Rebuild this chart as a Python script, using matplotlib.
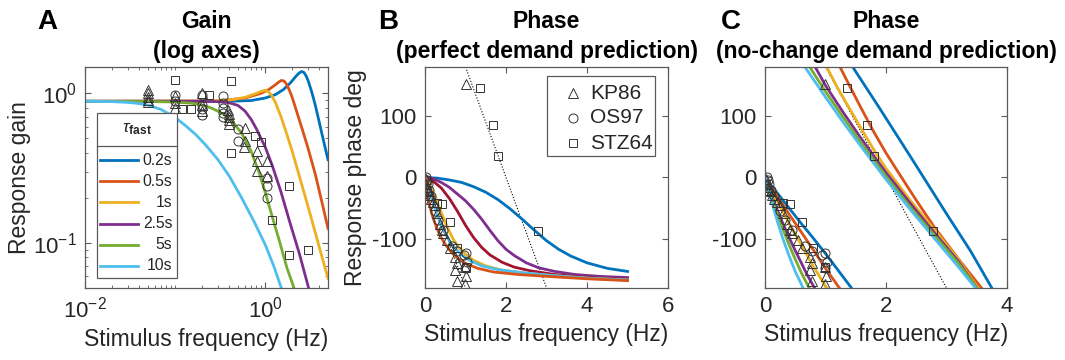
import matplotlib
matplotlib.use('Agg')
import matplotlib.pyplot as plt
import matplotlib.ticker as mticker
from matplotlib.patches import Rectangle
import numpy as np

plt.rcParams['font.family'] = ['Liberation Sans', 'DejaVu Sans']
plt.rcParams['mathtext.fontset'] = 'custom'
plt.rcParams['mathtext.rm'] = 'Liberation Sans'
plt.rcParams['mathtext.it'] = 'Liberation Sans:italic'
plt.rcParams['mathtext.bf'] = 'Liberation Sans:bold'
plt.rcParams['axes.unicode_minus'] = False

# MATLAB default colours
BLUE = '#0072BD'
ORANGE = '#D95319'
YELLOW = '#EDB120'
PURPLE = '#7E2F8E'
GREEN = '#77AC30'
LBLUE = '#4DBEEE'
DRED = '#A2142F'
TXT = '#262626'
EDGE = '#5a5a5a'

# ---------------- Panel A: gain curves (Hz, gain) ----------------
fa_blue = [0.01, 0.4, 0.7, 1.0, 1.3, 1.6, 1.9, 2.2, 2.4, 2.55, 2.7, 2.85, 3.0, 3.3, 3.6, 4.0, 4.5, 5.0]
ga_blue = [0.885, 0.885, 0.895, 0.93, 0.98, 1.06, 1.17, 1.3, 1.37, 1.4, 1.38, 1.31, 1.22, 1.02, 0.84, 0.64, 0.47, 0.36]
fa_orange = [0.01, 0.3, 0.6, 0.9, 1.1, 1.3, 1.42, 1.52, 1.62, 1.72, 1.85, 2.0, 2.3, 2.6, 3.0, 3.6, 4.3, 5.0]
ga_orange = [0.885, 0.89, 0.93, 1.0, 1.06, 1.14, 1.19, 1.22, 1.21, 1.16, 1.06, 0.94, 0.72, 0.57, 0.43, 0.29, 0.185, 0.125]
fa_yellow = [0.01, 0.2, 0.4, 0.6, 0.8, 0.9, 1.0, 1.08, 1.18, 1.3, 1.5, 1.75, 2.0, 2.4, 3.0, 3.6, 4.3, 5.0]
ga_yellow = [0.885, 0.885, 0.9, 0.94, 1.0, 1.03, 1.05, 1.03, 0.97, 0.87, 0.7, 0.53, 0.41, 0.28, 0.175, 0.118, 0.08, 0.058]
fa_purple = [0.01, 0.2, 0.3, 0.4, 0.5, 0.6, 0.7, 0.8, 0.9, 1.0, 1.2, 1.5, 1.9, 2.4, 3.1]
ga_purple = [0.885, 0.885, 0.88, 0.865, 0.83, 0.76, 0.67, 0.58, 0.5, 0.44, 0.33, 0.22, 0.135, 0.085, 0.048]
fa_green = [0.01, 0.05, 0.1, 0.15, 0.2, 0.25, 0.3, 0.35, 0.45, 0.55, 0.7, 0.85, 1.0, 1.2, 1.45, 1.75, 2.05, 2.3]
ga_green = [0.885, 0.882, 0.875, 0.86, 0.835, 0.8, 0.76, 0.72, 0.63, 0.54, 0.41, 0.3, 0.22, 0.15, 0.102, 0.068, 0.052, 0.042]
fa_lblue = [0.01, 0.02, 0.03, 0.04, 0.05, 0.07, 0.1, 0.13, 0.17, 0.22, 0.3, 0.4, 0.55, 0.75, 1.0, 1.25, 1.55]
ga_lblue = [0.885, 0.88, 0.87, 0.855, 0.835, 0.78, 0.69, 0.61, 0.53, 0.45, 0.36, 0.28, 0.2, 0.14, 0.098, 0.07, 0.048]

tau_labels = ['0.2s', '0.5s', '1s', '2.5s', '5s', '10s']

# Panel A: measured gain points
kp_fa = [0.05, 0.05, 0.05, 0.05, 0.05, 0.1, 0.1, 0.1, 0.2, 0.2, 0.2, 0.39, 0.4, 0.4, 0.4, 0.4,
         0.6, 0.6, 0.59, 0.81, 0.81, 0.81, 1.04, 1.04]
kp_ga = [1.05, 1.0, 0.95, 0.9, 0.87, 0.955, 0.86, 0.8, 1.0, 0.84, 0.76, 0.77, 0.73, 0.69, 0.66, 0.62,
         0.59, 0.48, 0.44, 0.41, 0.355, 0.305, 0.355, 0.28]
os_fa = [0.1, 0.1, 0.2, 0.2, 0.2, 0.2, 0.34, 0.34, 0.34, 0.34, 0.34, 0.5, 0.5, 1.04, 1.04, 1.04]
os_ga = [0.98, 0.885, 0.98, 0.84, 0.78, 0.72, 0.955, 0.86, 0.8, 0.74, 0.7, 0.575, 0.48, 0.27, 0.24, 0.2]
sq_fa = [0.1, 0.12, 0.15, 0.24, 0.42, 0.42, 0.77, 0.91, 1.19, 1.83, 1.83, 3.0]
sq_ga = [1.22, 0.78, 0.78, 0.97, 1.2, 0.4, 0.52, 0.47, 0.142, 0.24, 0.083, 0.09]

# ---------------- Panel B: phase curves (Hz, deg) ----------------
fb_blue = [0, 0.3, 0.6, 0.9, 1.2, 1.5, 1.8, 2.1, 2.4, 2.7, 3.0, 3.3, 3.6, 4.0, 4.5, 5.0]
pb_blue = [0, -1, -4, -8, -15, -24, -36, -51, -68, -86, -103, -117, -128, -139, -148, -153]
fb_purple = [0, 0.2, 0.4, 0.6, 0.8, 1.0, 1.2, 1.4, 1.6, 1.8, 2.0, 2.2, 2.5, 2.8, 3.2, 3.7, 4.3, 5.0]
pb_purple = [0, -2, -8, -16, -27, -38, -52, -68, -86, -103, -117, -127, -139, -147, -153, -158, -161, -163]
fb_dred = [0, 0.2, 0.4, 0.6, 0.8, 1.0, 1.2, 1.4, 1.6, 1.9, 2.2, 2.6, 3.2, 4.0, 5.0]
pb_dred = [0, -6, -17, -34, -55, -78, -98, -114, -126, -138, -146, -152, -158, -163, -166]
fb_yellow = [0, 0.1, 0.2, 0.3, 0.4, 0.5, 0.6, 0.7, 0.85, 1.0, 1.2, 1.5, 1.9, 2.5, 3.2, 4.0, 5.0]
pb_yellow = [0, -10, -24, -40, -57, -73, -88, -101, -115, -125, -135, -144, -151, -156, -160, -164, -167]
fb_lblue = [0, 0.05, 0.1, 0.2, 0.3, 0.4, 0.5, 0.6, 0.75, 0.9, 1.1, 1.4, 1.8, 2.4, 3.2, 4.0, 5.0]
pb_lblue = [0, -10, -21, -42, -61, -78, -92, -103, -116, -126, -135, -144, -150, -155, -160, -164, -167]
fb_orange = [0, 0.03, 0.06, 0.1, 0.15, 0.2, 0.3, 0.4, 0.5, 0.65, 0.8, 1.0, 1.3, 1.7, 2.3, 3.0, 4.0, 5.0]
pb_orange = [0, -15, -29, -42, -55, -66, -84, -98, -109, -122, -131, -140, -148, -154, -158, -161, -165, -168]

# ---------------- Panel C: wrapped phase curves (Hz, deg) ----------------
fc_blue_lo = [0, 0.2, 0.4, 0.6, 0.8, 1.0, 1.2, 1.43]
pc_blue_lo = [0, -25, -50, -75, -99, -124, -150, -180]
fc_blue_hi = [1.45, 1.9, 2.45, 3.0, 3.4, 3.75]
pc_blue_hi = [180, 112, 27, -59, -120, -180]
fc_orange_lo = [0, 0.2, 0.4, 0.6, 0.8, 1.0, 1.23]
pc_orange_lo = [0, -30, -60, -89, -118, -148, -180]
fc_orange_hi = [1.24, 1.4, 1.6, 1.8, 2.0, 2.2, 2.5, 2.8, 3.2, 3.58]
pc_orange_hi = [180, 149, 111, 74, 40, 9, -37, -81, -133, -180]
fc_yellow_lo = [0, 0.2, 0.4, 0.6, 0.8, 1.02]
pc_yellow_lo = [0, -38, -75, -110, -145, -180]
fc_yellow_hi = [1.02, 1.2, 1.4, 1.6, 1.8, 2.0, 2.4, 2.8, 3.2, 3.52]
pc_yellow_hi = [180, 146, 112, 78, 45, 15, -37, -85, -134, -180]
fc_purple_lo = [0, 0.1, 0.2, 0.3, 0.4, 0.5, 0.6, 0.7, 0.82]
pc_purple_lo = [0, -27, -52, -76, -98, -119, -139, -159, -180]
fc_purple_hi = [0.83, 1.0, 1.3, 1.6, 2.0, 2.4, 2.8, 3.2, 3.5]
pc_purple_hi = [180, 150, 105, 62, 8, -42, -90, -137, -180]
fc_green_lo = [0, 0.1, 0.2, 0.3, 0.4, 0.5, 0.6, 0.73]
pc_green_lo = [0, -30, -58, -85, -110, -133, -155, -180]
fc_green_hi = [0.74, 1.0, 1.3, 1.6, 2.0, 2.4, 2.8, 3.2, 3.5]
pc_green_hi = [180, 140, 97, 55, 2, -48, -94, -140, -180]
fc_lblue_lo = [0, 0.1, 0.2, 0.3, 0.4, 0.5, 0.63]
pc_lblue_lo = [0, -36, -70, -101, -128, -153, -180]
fc_lblue_hi = [0.66, 1.0, 1.3, 1.6, 2.0, 2.4, 2.8, 3.2, 3.48]
pc_lblue_hi = [180, 131, 89, 49, -3, -52, -99, -146, -180]

# delay reference line (dotted)
dot_f1 = [0, 1]
dot_p1 = [0, -180]
dot_f2 = [1, 3]
dot_p2 = [180, -180]

# measured phase points (shared by B and C)
kp_f = [0.02, 0.03, 0.05, 0.05, 0.1, 0.12, 0.15, 0.2, 0.25, 0.3, 0.37, 0.41, 0.45, 0.54, 0.62,
        0.74, 0.78, 0.74, 0.78, 0.99, 1.01, 0.99, 1.0]
kp_p = [-3, -10, -15, -20, -22, -28, -35, -40, -45, -58, -75, -86, -91, -102, -115,
        -129, -139, -150, -169, -145, -161, -174, 153]
os_f = [0.03, 0.05, 0.07, 0.1, 0.15, 0.25, 0.33, 0.45, 0.66, 0.78, 0.95, 1.0, 1.03, 0.99]
os_p = [0, -4, -10, -20, -30, -55, -70, -85, -112, -120, -126, -123, -137, -147]
sq_f = [0.3, 0.41, 0.62, 0.8, 1.0, 1.36, 1.69, 1.81, 2.78]
sq_p = [-42, -43, -72, -115, -145, 145, 86, 35, -87]

# ---------------- figure ----------------
fig = plt.figure(figsize=(10.65, 3.6), dpi=100)
axA = fig.add_axes([0.0798, 0.2, 0.2282, 0.6139])
axB = fig.add_axes([0.3991, 0.2, 0.2282, 0.6139])
axC = fig.add_axes([0.7183, 0.2, 0.2272, 0.6139])

mk = dict(linestyle='none', mfc='none', mec='#333333', mew=0.7)


def style(ax):
    for s in ax.spines.values():
        s.set_color(EDGE)
        s.set_linewidth(0.9)
    ax.tick_params(which='both', direction='in', top=True, right=True,
                   colors=EDGE, labelcolor=TXT, labelsize=16, pad=6)
    ax.tick_params(which='major', length=4)
    ax.tick_params(which='minor', length=2)


def two_line_title(ax, top, bottom):
    # each line placed on its own so the panel letter does not collide with the block
    ax.text(0.5, 1.204, top, transform=ax.transAxes, ha='center', va='center',
            fontsize=16.5, fontweight='bold', color='black')
    ax.text(0.5, 1.068, bottom, transform=ax.transAxes, ha='center', va='center',
            fontsize=16.5, fontweight='bold', color='black')


# Panel A
lines_a = [(fa_blue, ga_blue, BLUE), (fa_orange, ga_orange, ORANGE), (fa_yellow, ga_yellow, YELLOW),
           (fa_purple, ga_purple, PURPLE), (fa_green, ga_green, GREEN), (fa_lblue, ga_lblue, LBLUE)]
for f, g, c in lines_a:
    axA.plot(f, g, color=c, lw=2)
axA.plot(kp_fa, kp_ga, marker='^', ms=7, **mk)
axA.plot(os_fa, os_ga, marker='o', ms=6.5, **mk)
axA.plot(sq_fa, sq_ga, marker='s', ms=6, **mk)
axA.set_xscale('log')
axA.set_yscale('log')
axA.set_xlim(0.01, 5)
axA.set_ylim(0.05, 1.5)
axA.xaxis.set_major_locator(mticker.FixedLocator([0.01, 1]))
axA.xaxis.set_minor_locator(mticker.LogLocator(base=10, subs=np.arange(1, 10), numticks=20))
axA.yaxis.set_major_locator(mticker.FixedLocator([0.1, 1]))
axA.yaxis.set_minor_locator(mticker.LogLocator(base=10, subs=np.arange(2, 10), numticks=20))
axA.xaxis.set_minor_formatter(mticker.NullFormatter())
axA.yaxis.set_minor_formatter(mticker.NullFormatter())
style(axA)
axA.set_xlabel('Stimulus frequency (Hz)', fontsize=16.5, color=TXT, labelpad=4)
axA.set_ylabel('Response gain', fontsize=16.5, color=TXT)
axA.yaxis.set_label_coords(-0.222, 0.5)
two_line_title(axA, 'Gain', '(log axes)')

# legend for tau_fast
axA.add_patch(Rectangle((0.048, 0.044), 0.329, 0.746, transform=axA.transAxes,
                        facecolor='white', edgecolor=EDGE, lw=0.9, zorder=10))
axA.plot([0.048, 0.377], [0.644, 0.644], transform=axA.transAxes, color=EDGE, lw=0.9, zorder=11)
axA.text(0.2125, 0.717, r'$\tau_{\mathbf{fast}}$', transform=axA.transAxes, ha='center', va='center',
         fontsize=12.5, color=TXT, zorder=12)
for i, (f, g, c) in enumerate(lines_a):
    y = 0.579 - i * 0.0958
    axA.plot([0.062, 0.218], [y, y], transform=axA.transAxes, color=c, lw=2, zorder=12)
    axA.text(0.36, y, tau_labels[i], transform=axA.transAxes, ha='right', va='center',
             fontsize=11.3, color=TXT, zorder=12)

# Panel B
axB.plot(dot_f1, dot_p1, color='black', ls=':', lw=0.8)
axB.plot(dot_f2, dot_p2, color='black', ls=':', lw=0.8)
for f, p, c in [(fb_blue, pb_blue, BLUE), (fb_purple, pb_purple, PURPLE), (fb_dred, pb_dred, DRED),
                (fb_yellow, pb_yellow, YELLOW), (fb_lblue, pb_lblue, LBLUE), (fb_orange, pb_orange, ORANGE)]:
    axB.plot(f, p, color=c, lw=2)
axB.plot(kp_f, kp_p, marker='^', ms=7, **mk)
axB.plot(os_f, os_p, marker='o', ms=6.5, **mk)
axB.plot(sq_f, sq_p, marker='s', ms=6, **mk)
axB.set_xlim(0, 6)
axB.set_ylim(-180, 180)
axB.set_xticks([0, 2, 4, 6])
axB.set_yticks([-100, 0, 100])
style(axB)
axB.set_xlabel('Stimulus frequency (Hz)', fontsize=16.5, color=TXT, labelpad=4)
axB.set_ylabel('Response phase deg', fontsize=16.5, color=TXT)
axB.yaxis.set_label_coords(-0.238, 0.5)
two_line_title(axB, 'Phase', '(perfect demand prediction)')

# dataset legend
axB.add_patch(Rectangle((0.503, 0.597), 0.444, 0.362, transform=axB.transAxes,
                        facecolor='white', edgecolor=EDGE, lw=0.9, zorder=10))
for y, m, lab, ms in [(0.881, '^', 'KP86', 7), (0.771, 'o', 'OS97', 6.5), (0.655, 's', 'STZ64', 6)]:
    axB.plot([0.61], [y], transform=axB.transAxes, marker=m, ms=ms, zorder=12, **mk)
    axB.text(0.679, y, lab, transform=axB.transAxes, ha='left', va='center', fontsize=15,
             color=TXT, zorder=12)

# Panel C
axC.plot(dot_f1, dot_p1, color='black', ls=':', lw=0.8)
axC.plot(dot_f2, dot_p2, color='black', ls=':', lw=0.8)
for flo, plo, fhi, phi, c in [
        (fc_blue_lo, pc_blue_lo, fc_blue_hi, pc_blue_hi, BLUE),
        (fc_orange_lo, pc_orange_lo, fc_orange_hi, pc_orange_hi, ORANGE),
        (fc_yellow_lo, pc_yellow_lo, fc_yellow_hi, pc_yellow_hi, YELLOW),
        (fc_purple_lo, pc_purple_lo, fc_purple_hi, pc_purple_hi, PURPLE),
        (fc_green_lo, pc_green_lo, fc_green_hi, pc_green_hi, GREEN),
        (fc_lblue_lo, pc_lblue_lo, fc_lblue_hi, pc_lblue_hi, LBLUE)]:
    axC.plot(flo, plo, color=c, lw=2)
    axC.plot(fhi, phi, color=c, lw=2)
axC.plot(kp_f, kp_p, marker='^', ms=7, **mk)
axC.plot(os_f, os_p, marker='o', ms=6.5, **mk)
axC.plot(sq_f, sq_p, marker='s', ms=6, **mk)
axC.set_xlim(0, 4)
axC.set_ylim(-180, 180)
axC.set_xticks([0, 2, 4])
axC.set_yticks([-100, 0, 100])
style(axC)
axC.set_xlabel('Stimulus frequency (Hz)', fontsize=16.5, color=TXT, labelpad=4)
two_line_title(axC, 'Phase', '(no-change demand prediction)')

# panel letters
for x, lab in [(0.035, 'A'), (0.355, 'B'), (0.677, 'C')]:
    fig.text(x, 0.94, lab, fontsize=20, fontweight='bold', color='black', va='center', ha='left')

fig.savefig('out.png', dpi=100)
